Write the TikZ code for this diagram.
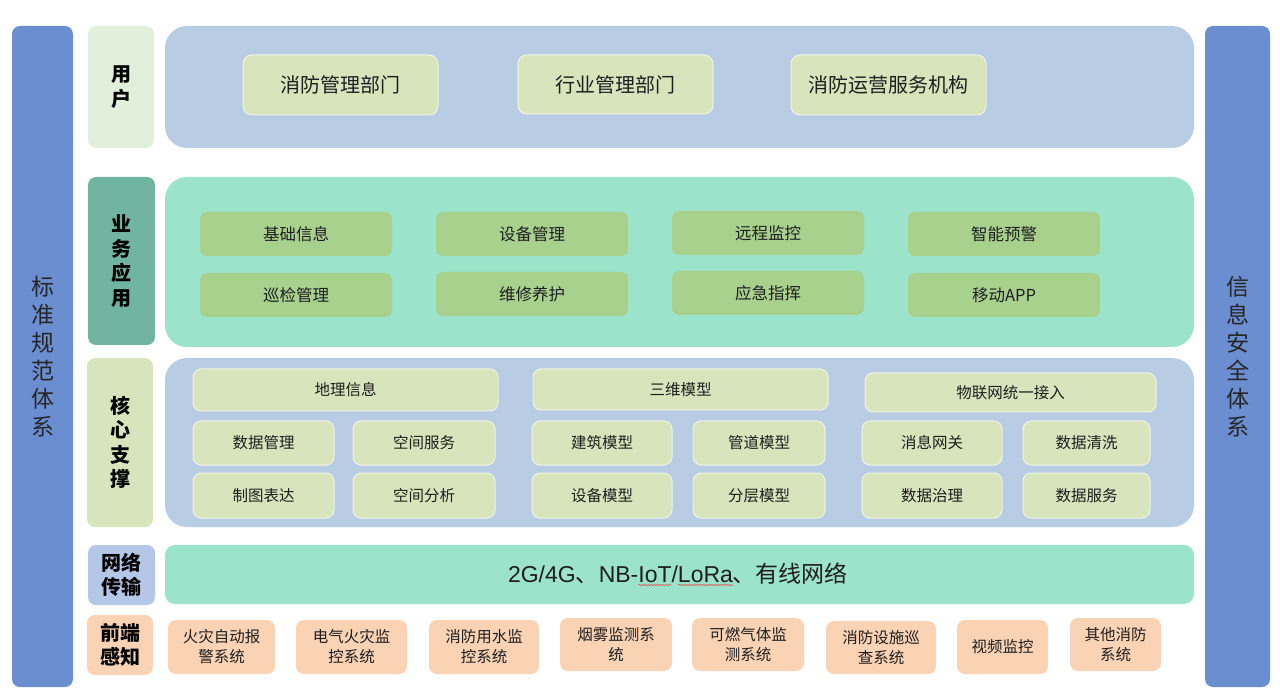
\documentclass[tikz,border=0pt]{standalone}
\usepackage{fontspec}
\setmainfont{Noto Sans CJK SC}
\newfontfamily\arialfont{Liberation Sans}
\usetikzlibrary{decorations.pathmorphing}
\definecolor{barblue}{RGB}{106,142,207}
\definecolor{panelblue}{RGB}{184,204,228}
\definecolor{lblgreen}{RGB}{226,239,218}
\definecolor{boxgreen}{RGB}{216,228,188}
\definecolor{lblteal}{RGB}{112,181,160}
\definecolor{panelmint}{RGB}{156,227,203}
\definecolor{bizgreen}{RGB}{169,209,142}
\definecolor{lblnet}{RGB}{180,199,231}
\definecolor{peach}{RGB}{250,211,180}
\definecolor{txt}{RGB}{30,30,30}
\definecolor{wavered}{RGB}{225,80,80}
\newcommand\bx[7]{\node[#2, anchor=north west, minimum width={#5-#3}, minimum height={#6-#4}] (#1) at (#3,#4) {#7};}
\begin{document}
\begin{tikzpicture}[x=1pt,y=-1pt,
  every node/.style={inner sep=0pt, outer sep=0pt, align=center},
  bar/.style={fill=barblue, rounded corners=8pt, font=\fontsize{23}{28}\selectfont, text=black!85},
  lbl/.style={rounded corners=8pt, font=\fontsize{20}{24.5}\selectfont\bfseries, text=black},
  panel/.style={rounded corners=22pt},
  ubox/.style={fill=boxgreen, draw=white!60!boxgreen, line width=1pt, rounded corners=9pt, font=\fontsize{20}{24}\selectfont, text=txt},
  bbox/.style={fill=bizgreen, rounded corners=7pt, font=\fontsize{16.5}{20}\selectfont, text=txt},
  cbox/.style={fill=boxgreen, draw=white!60!boxgreen, line width=1pt, rounded corners=8pt, font=\fontsize{15.5}{19}\selectfont, text=txt},
  fbox/.style={fill=peach, rounded corners=8pt, font=\fontsize{15.5}{20}\selectfont, text=txt},
  nettxt/.style={anchor=base west, font=\fontsize{23}{27}\selectfont, text=txt},
  wave/.style={draw=wavered, line width=0.6pt, decorate, decoration={snake,amplitude=0.7pt,segment length=3pt}}
]
\useasboundingbox (0,0) rectangle (1280,700);
% side bars
\bx{lbar}{bar}{12}{26}{73}{687}{标\\准\\规\\范\\体\\系}
\bx{rbar}{bar}{1205}{26}{1270}{687}{信\\息\\安\\全\\体\\系}
% labels
\bx{lusr}{lbl,fill=lblgreen}{88}{26}{154}{148}{用\\户}
\bx{lbiz}{lbl,fill=lblteal}{88}{177}{155}{345}{业\\务\\应\\用}
\bx{lcore}{lbl,fill=boxgreen}{87}{358}{153}{527}{核\\心\\支\\撑}
\bx{lnet}{lbl,fill=lblnet}{88}{545}{155}{605}{网络\\传输}
\bx{lfront}{lbl,fill=peach}{87}{615}{153}{675}{前端\\感知}
% panels
\bx{pusr}{panel,fill=panelblue}{165}{26}{1194}{148}{}
\bx{pbiz}{panel,fill=panelmint}{165}{177}{1194}{347}{}
\bx{pcore}{panel,fill=panelblue}{165}{358}{1194}{527}{}
\bx{pnet}{rounded corners=10pt,fill=panelmint}{165}{545}{1194}{604}{}
% network text
\node[nettxt] (t1) at (508,582) {{\arialfont 2G/4G}、{\arialfont NB-}};
\node[nettxt] (t2) at (t1.base east) {\arialfont IoT};
\node[nettxt] (t3) at (t2.base east) {\arialfont /};
\node[nettxt] (t4) at (t3.base east) {\arialfont LoRa};
\node[nettxt] (t5) at (t4.base east) {、有线网络};
\draw[wave] ([yshift=-3pt]t2.base west) -- ([yshift=-3pt]t2.base east);
\draw[wave] ([yshift=-3pt]t4.base west) -- ([yshift=-3pt]t4.base east);
% user boxes
\bx{u1}{ubox}{243}{55}{438}{115}{消防管理部门}
\bx{u2}{ubox}{518}{55}{713}{114}{行业管理部门}
\bx{u3}{ubox}{791}{55}{986}{115}{消防运营服务机构}
% business boxes
\bx{b1}{bbox}{200}{212}{392}{256}{基础信息}
\bx{b2}{bbox}{436}{212}{628}{256}{设备管理}
\bx{b3}{bbox}{672}{211}{864}{255}{远程监控}
\bx{b4}{bbox}{908}{212}{1100}{256}{智能预警}
\bx{b5}{bbox}{200}{273}{392}{317}{巡检管理}
\bx{b6}{bbox}{436}{272}{628}{316}{维修养护}
\bx{b7}{bbox}{672}{271}{864}{315}{应急指挥}
\bx{b8}{bbox}{908}{273}{1100}{317}{移动APP}
% core boxes
\bx{c1}{cbox}{193}{369}{498}{411}{地理信息}
\bx{c2}{cbox}{533}{369}{828}{410}{三维模型}
\bx{c3}{cbox}{865}{373}{1156}{412}{物联网统一接入}
\bx{c4}{cbox}{193}{421}{334}{465}{数据管理}
\bx{c5}{cbox}{353}{421}{495}{465}{空间服务}
\bx{c6}{cbox}{532}{421}{672}{465}{建筑模型}
\bx{c7}{cbox}{693}{421}{825}{465}{管道模型}
\bx{c8}{cbox}{862}{421}{1002}{465}{消息网关}
\bx{c9}{cbox}{1023}{421}{1150}{465}{数据清洗}
\bx{c10}{cbox}{193}{473}{334}{518}{制图表达}
\bx{c11}{cbox}{353}{473}{495}{518}{空间分析}
\bx{c12}{cbox}{532}{473}{672}{518}{设备模型}
\bx{c13}{cbox}{693}{473}{825}{518}{分层模型}
\bx{c14}{cbox}{862}{473}{1002}{518}{数据治理}
\bx{c15}{cbox}{1023}{473}{1150}{518}{数据服务}
% front boxes
\bx{f1}{fbox}{168}{620}{275}{674}{火灾自动报\\警系统}
\bx{f2}{fbox}{296}{620}{407}{674}{电气火灾监\\控系统}
\bx{f3}{fbox}{429}{620}{539}{674}{消防用水监\\控系统}
\bx{f4}{fbox}{560}{618}{672}{671}{烟雾监测系\\统}
\bx{f5}{fbox}{692}{618}{804}{671}{可燃气体监\\测系统}
\bx{f6}{fbox}{826}{621}{936}{674}{消防设施巡\\查系统}
\bx{f7}{fbox}{957}{620}{1048}{674}{视频监控}
\bx{f8}{fbox}{1070}{618}{1161}{671}{其他消防\\系统}
\end{tikzpicture}
\end{document}
